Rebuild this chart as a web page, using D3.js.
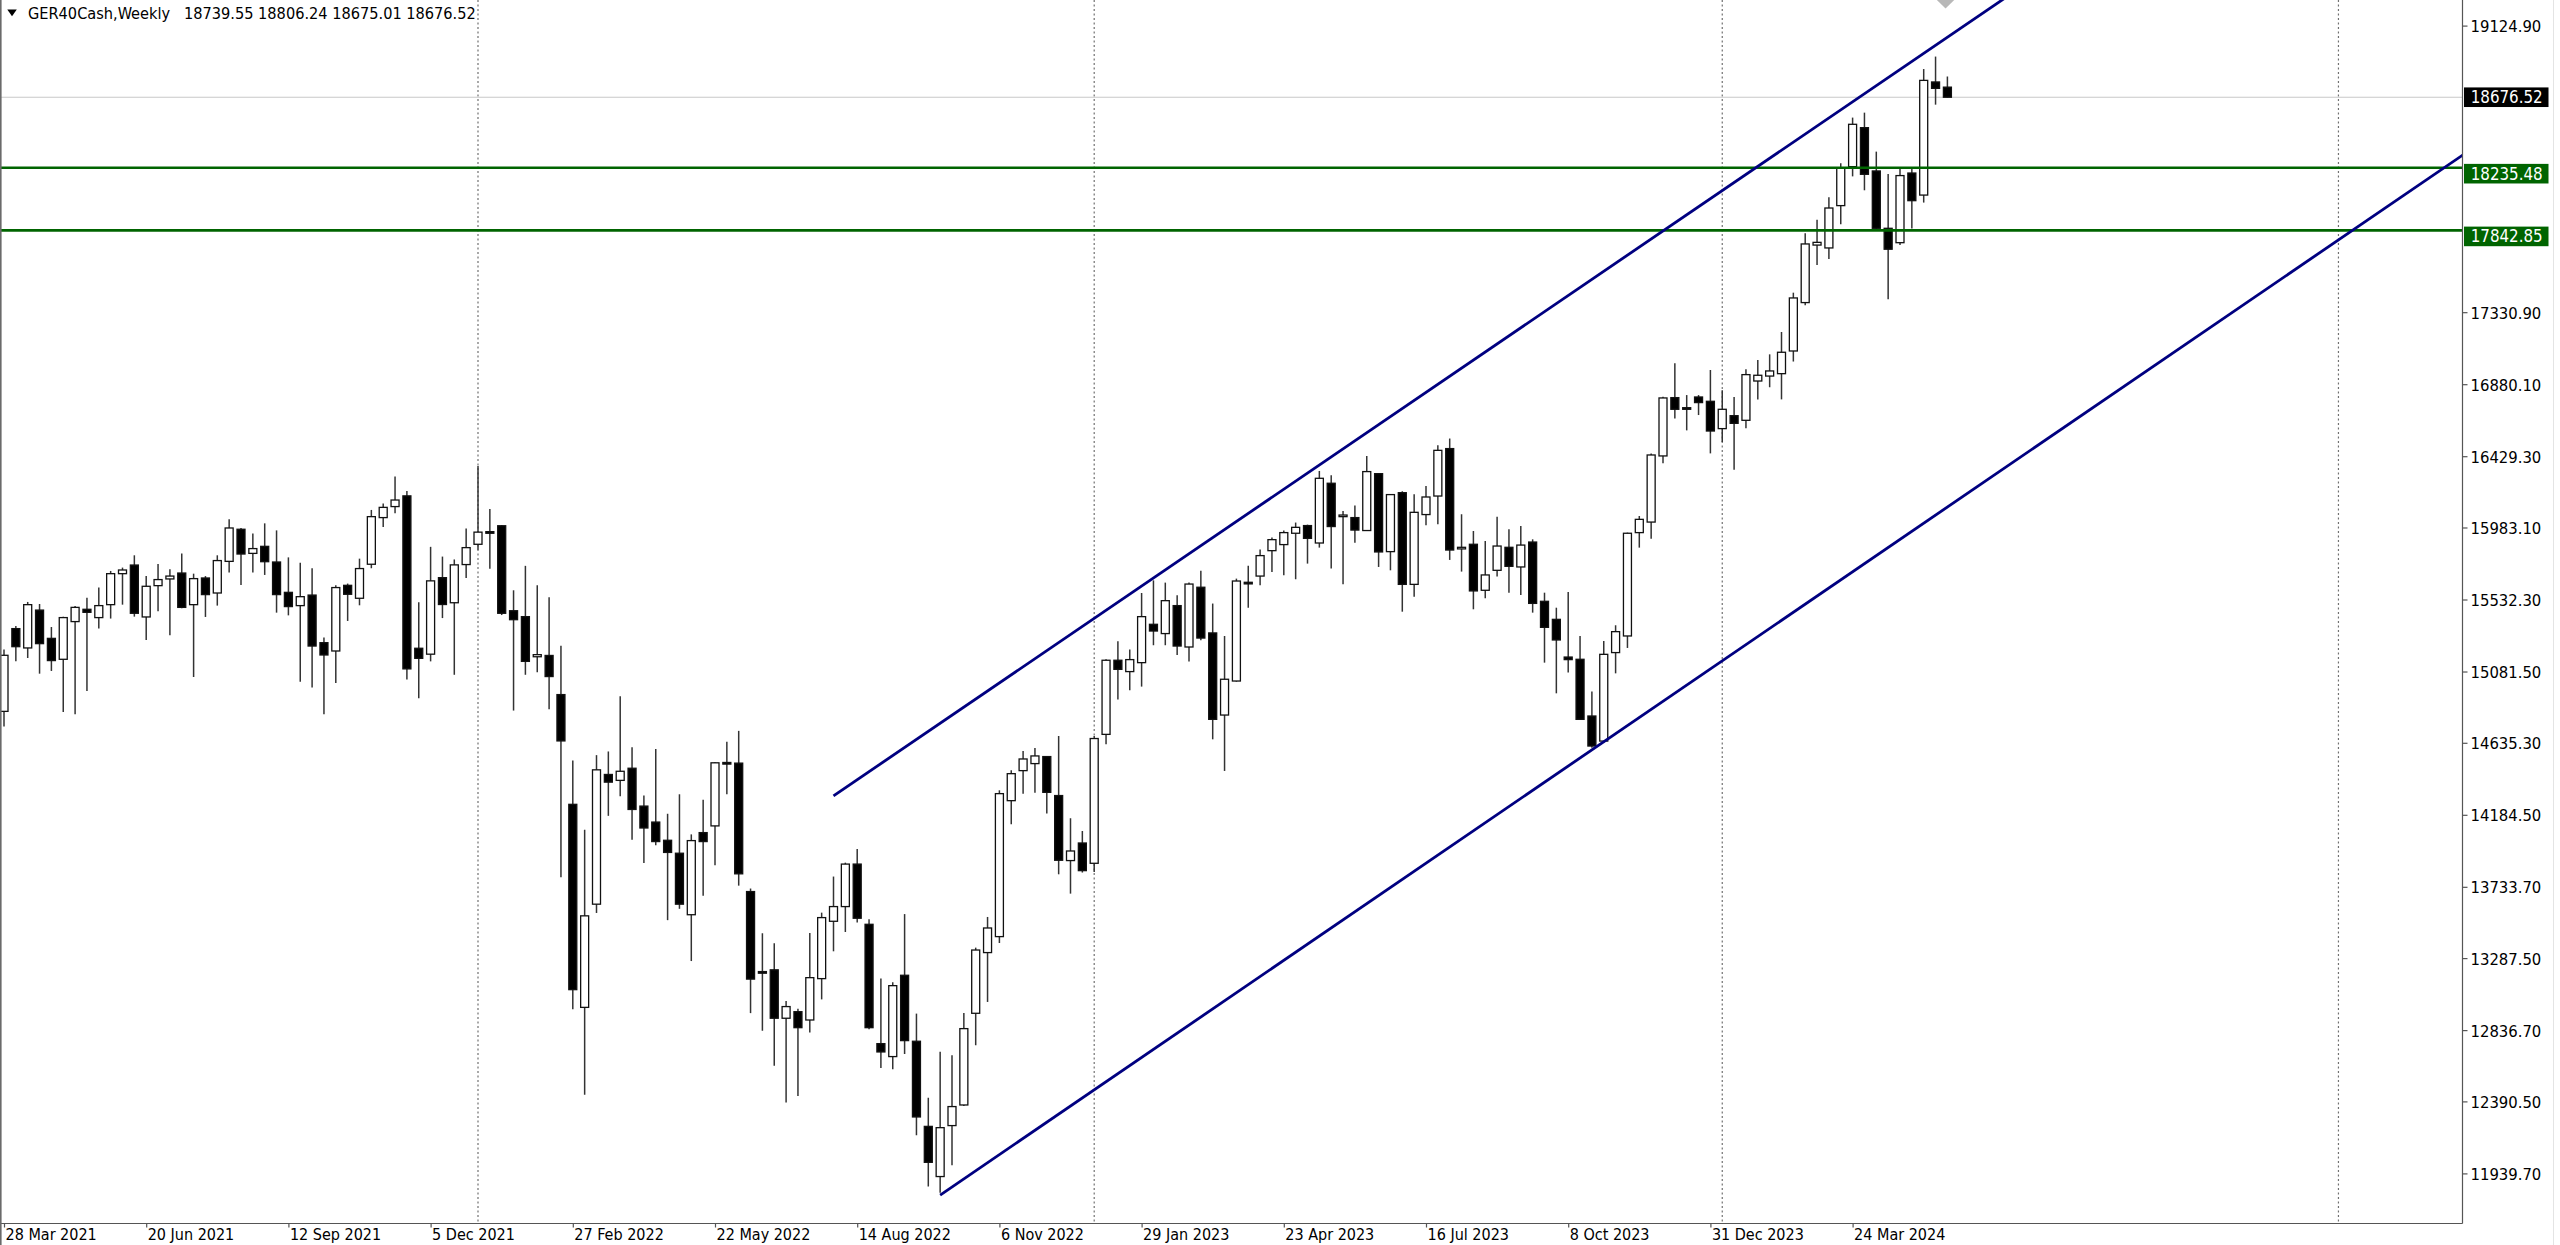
<!DOCTYPE html>
<html><head><meta charset="utf-8">
<script src="https://cdn.jsdelivr.net/npm/d3@7"></script>
<style>
html,body{margin:0;padding:0;background:#fff;overflow:hidden}
svg{display:block}
text{font-family:"DejaVu Sans Condensed","DejaVu Sans",sans-serif;font-stretch:condensed}
</style></head><body>
<svg id="chart" width="2560" height="1245"></svg>
<script>
const symbolTitle = "GER40Cash,Weekly";
const headerValues = ["18739.55", "18806.24", "18675.01", "18676.52"];
const firstWeek = "2021-03-28";
const lastWeekShown = "2025-01-05";

const open = [14832,15350,15229,15466,15289,15158,15394,15471,15419,15500,15694,15748,15423,15619,15661,15698,15500,15667,15573,15771,
15972,15821,15865,15767,15577,15494,15560,15262,15210,15621,15540,15753,16045,16114,16181,15227,15190,15669,15512,15751,
15878,15957,15994,15462,15425,15174,15182,14937,14250,12979,13625,14437,14400,14476,14239,14139,14025,13944,13559,14073,
14115,14512,14508,13704,13203,13214,12911,12952,12900,13159,13518,13610,13876,13499,12752,12671,13180,12767,12234,11920,
12239,12368,12942,13322,13422,14273,14461,14505,14549,14305,13898,14008,13881,14688,15152,15081,15137,15377,15319,15494,
15235,15609,15323,14809,15022,15640,15679,15838,15876,15947,15995,15886,16260,16057,16045,15964,16320,15832,16201,15627,
16064,16180,16477,15855,15878,15590,15715,15859,15736,15892,15521,15408,15172,15158,14803,14646,15200,15304,15951,16017,
16431,16796,16733,16800,16773,16602,16683,16654,16900,16931,16946,17088,17391,17751,17733,17998,18242,18486,18215,17856,
17766,18202,18064,18772,18739.55];
const high = [15220,15366,15517,15504,15360,15425,15492,15544,15607,15711,15732,15809,15679,15754,15721,15820,15694,15679,15809,16034,
15980,15945,16009,15965,15796,15763,15728,15294,15621,15632,15788,16093,16133,16302,16212,15515,15862,15801,15783,15976,
16368,16099,15998,15590,15743,15622,15546,15243,14524,14091,14558,14581,14926,14608,14305,14597,14191,14313,14062,14278,
14513,14642,14710,13723,13443,13380,13019,12971,13444,13572,13798,13885,13970,13530,13159,13136,13563,12940,12414,12702,
12679,12944,13353,13545,14338,14463,14584,14603,14552,14678,14163,14083,14678,15158,15271,15220,15573,15652,15638,15559,
15638,15713,15507,15304,15663,15744,15846,15920,15965,16014,16001,16337,16310,16086,16120,16431,16322,16191,16210,16191,
16243,16498,16540,16066,15961,15898,16051,15972,15992,15909,15575,15481,15579,15304,14956,15272,15371,15951,16055,16447,
16802,17011,16812,16812,16969,16842,16800,16973,17031,17067,17207,17453,17825,17910,18050,18263,18549,18580,18336,18196,
18238,18240,18853,18931,18806.24];
const low = [14738,15145,15166,15068,15085,14828,14814,14960,15350,15413,15500,15425,15279,15458,15308,15477,15047,15423,15494,15701,
15623,15701,15686,15450,15433,15018,14981,14814,15010,15398,15496,15728,15986,16072,15032,14914,15145,15416,15061,15667,
15843,15725,15435,14837,15061,15077,14845,13794,12967,12432,13570,14178,14300,14028,13883,13994,13525,13596,13269,13678,
13868,14313,13741,12943,12832,12613,12383,12424,12821,13029,13330,13451,13510,12842,12599,12591,12687,12178,11857,11819,
11990,12362,12742,13013,13382,14125,14317,14323,14192,13812,13691,13823,13826,14626,14906,14964,14987,15246,15246,15185,
15144,15277,14657,14459,15018,15481,15621,15704,15684,15659,15757,15857,15726,15627,15888,15961,15736,15715,15456,15550,
15997,16003,15780,15707,15471,15540,15676,15575,15560,15450,15137,14945,15075,14778,14605,14636,15070,15229,15857,15913,
16385,16665,16591,16687,16447,16518,16345,16604,16785,16861,16785,17022,17374,17626,17664,17881,18181,18094,17850,17412,
17751,17854,18017,18630,18675.01];
const close = [15183,15237,15500,15256,15150,15419,15483,15452,15494,15694,15717,15446,15615,15657,15679,15483,15663,15563,15776,15980,
15817,15851,15769,15563,15488,15550,15241,15185,15607,15565,15726,16051,16109,16155,15098,15164,15649,15501,15749,15857,
15954,15950,15446,15406,15145,15187,15050,14647,13090,13552,14466,14389,14457,14218,14102,14017,13949,13625,14023,14017,
14510,14506,13815,13156,13199,12911,12984,12852,13165,13541,13610,13876,13537,12852,12700,13115,12771,12293,12009,12226,
12358,12846,13338,13476,14317,14442,14534,14553,14325,13900,13958,13835,14662,15152,15095,15156,15425,15335,15525,15241,
15629,15291,14782,15033,15648,15636,15807,15907,15951,15984,15915,16291,15989,16061,15967,16333,15830,16189,15627,16078,
16174,16466,15842,15859,15586,15686,15867,15740,15873,15508,15358,15279,15156,14782,14615,15189,15331,15947,16034,16437,
16794,16723,16729,16765,16587,16723,16635,16940,16936,16963,17080,17420,17758,17768,17983,18233,18507,18194,17856,17725,
18186,18029,18782,18732,18676.52];

const dateTickLabels = ["28 Mar 2021","20 Jun 2021","12 Sep 2021","5 Dec 2021","27 Feb 2022","22 May 2022","14 Aug 2022",
  "6 Nov 2022","29 Jan 2023","23 Apr 2023","16 Jul 2023","8 Oct 2023","31 Dec 2023","24 Mar 2024"];
const priceTicks = [19124.90,17330.90,16880.10,16429.30,15983.10,15532.30,15081.50,14635.30,14184.50,13733.70,13287.50,12836.70,12390.50,11939.70];
const levelLines = [18235.48, 17842.85];
const lastPrice = 18676.52;
const yearSeparators = ["2022-01-02","2023-01-01","2024-01-07","2025-01-05"];
const upperChannel = [["2022-07-31", 14303], ["2024-05-05", 18951]];
const lowerChannel = [["2022-10-02", 11804], ["2023-10-22", 14591]];
const markerWeek = "2024-05-12";

const svg = d3.select("#chart");
const plotRight = 2462.5, plotBottom = 1223.5;
const parseISO = d3.utcParse("%Y-%m-%d");
const parseLabel = d3.utcParse("%d %b %Y");
const start = parseISO(firstWeek);
const dates = open.map((_, i) => d3.utcWeek.offset(start, i));

const x = d3.scaleUtc().domain([start, parseISO(lastWeekShown)]).range([4, 2338.45]);
const y = d3.scaleLinear().domain([11939.70, 19124.90]).range([1173.4, 25.6]);

svg.append("rect").attr("width", 2560).attr("height", 1245).attr("fill", "#fff");
svg.append("defs").append("clipPath").attr("id", "plotClip")
  .append("rect").attr("x", 0).attr("y", 0).attr("width", plotRight).attr("height", plotBottom);

const plot = svg.append("g").attr("clip-path", "url(#plotClip)");

// year separators
plot.selectAll("line.sep").data(yearSeparators).join("line").attr("class", "sep")
  .attr("x1", d => x(parseISO(d))).attr("x2", d => x(parseISO(d)))
  .attr("y1", 0).attr("y2", plotBottom)
  .attr("stroke", "#707070").attr("stroke-width", 1.2).attr("stroke-dasharray", "2,2.5");

// last price line
plot.append("line").attr("x1", 0).attr("x2", plotRight)
  .attr("y1", y(lastPrice)).attr("y2", y(lastPrice))
  .attr("stroke", "#c8c8c8").attr("stroke-width", 1.2);

// candles
const bw = 8;
const cg = plot.append("g");
const idx = d3.range(open.length);
cg.selectAll("line.wick").data(idx).join("line").attr("class", "wick")
  .attr("x1", i => x(dates[i])).attr("x2", i => x(dates[i]))
  .attr("y1", i => y(high[i])).attr("y2", i => y(low[i]))
  .attr("stroke", "#333").attr("stroke-width", 1.5);
cg.selectAll("rect.body").data(idx).join("rect").attr("class", "body")
  .attr("x", i => x(dates[i]) - bw / 2)
  .attr("width", bw)
  .attr("y", i => y(Math.max(open[i], close[i])))
  .attr("height", i => Math.max(1.6, Math.abs(y(open[i]) - y(close[i]))))
  .attr("fill", i => close[i] > open[i] ? "#fff" : "#000")
  .attr("stroke", "#111").attr("stroke-width", 1.3);

// horizontal levels
plot.selectAll("line.level").data(levelLines).join("line").attr("class", "level")
  .attr("x1", 0).attr("x2", plotRight)
  .attr("y1", d => y(d)).attr("y2", d => y(d))
  .attr("stroke", "#006400").attr("stroke-width", 2.6);

// channel rays
function ray(pts) {
  const [a, b] = pts;
  const xa = parseISO(a[0]), xb = parseISO(b[0]);
  const slope = (b[1] - a[1]) / (xb - xa);
  const xEnd = d3.utcWeek.offset(xb, 160);
  const pEnd = a[1] + slope * (xEnd - xa);
  return [[x(xa), y(a[1])], [x(xEnd), y(pEnd)]];
}
[upperChannel, lowerChannel].forEach(ch => {
  const p = ray(ch);
  plot.append("line").attr("x1", p[0][0]).attr("y1", p[0][1]).attr("x2", p[1][0]).attr("y2", p[1][1])
    .attr("stroke", "#000080").attr("stroke-width", 2.8).attr("stroke-linecap", "butt");
});

// marker at top (partially hidden)
const mx = x(parseISO(markerWeek)) + 10;
plot.append("path").attr("d", `M${mx},-10 L${mx + 9.5},-0.8 L${mx},8.6 L${mx - 9.5},-0.8 Z`).attr("fill", "#b8b8b8");

// axes frame
svg.append("line").attr("x1", plotRight).attr("x2", plotRight).attr("y1", 0).attr("y2", plotBottom)
  .attr("stroke", "#555").attr("stroke-width", 1.2);
svg.append("line").attr("x1", 0).attr("x2", plotRight).attr("y1", plotBottom).attr("y2", plotBottom)
  .attr("stroke", "#555").attr("stroke-width", 1.2);
svg.append("rect").attr("x", 0).attr("y", 0).attr("width", 1.6).attr("height", 1245).attr("fill", "#6a6a6a");
svg.append("line").attr("x1", 2553.5).attr("x2", 2553.5).attr("y1", 0).attr("y2", 1245)
  .attr("stroke", "#e4e4e4").attr("stroke-width", 1);

// bottom axis
const xAxis = d3.axisBottom(x)
  .tickValues(dateTickLabels.map(s => parseLabel(s)))
  .tickFormat((d, i) => dateTickLabels[i])
  .tickSize(4).tickSizeOuter(0);
const gx = svg.append("g").attr("transform", `translate(0,${plotBottom})`).call(xAxis);
gx.select(".domain").remove();
gx.selectAll(".tick line").attr("stroke", "#555").attr("stroke-width", 1.2);
gx.selectAll(".tick text").attr("text-anchor", "start").attr("x", 1).attr("y", 16.2).attr("dy", 0)
  .attr("fill", "#000").style("font-size", "16px");

// right axis
const yAxis = d3.axisRight(y).tickValues(priceTicks).tickFormat(d3.format(".2f")).tickSize(5).tickSizeOuter(0);
const gy = svg.append("g").attr("transform", `translate(${plotRight},0)`).call(yAxis);
gy.select(".domain").remove();
gy.selectAll(".tick line").attr("stroke", "#555").attr("stroke-width", 1.2);
gy.selectAll(".tick text").attr("x", 8).attr("dy", "0.36em").attr("fill", "#000").style("font-size", "16.5px");

// price label boxes
const boxes = [{v: lastPrice, bg: "#000", off: 0}].concat(levelLines.map(v => ({v, bg: "#006400", off: 6})));
const bg = svg.append("g");
boxes.forEach(b => {
  const cy = y(b.v) + b.off;
  bg.append("rect").attr("x", plotRight + 1.5).attr("y", cy - 9.8).attr("width", 84.5).attr("height", 19.6).attr("fill", b.bg);
  bg.append("text").attr("x", plotRight + 8.2).attr("y", cy).attr("dy", "0.36em")
    .attr("fill", "#fff").style("font-size", "16.8px").text(d3.format(".2f")(b.v));
});

// header
svg.append("path").attr("d", "M7.3,9.6 L16.8,9.6 L12,16.2 Z").attr("fill", "#000");
svg.append("text").attr("x", 28).attr("y", 19).style("font-size", "16.2px").attr("fill", "#000").text(symbolTitle);
svg.append("text").attr("x", 184).attr("y", 19).style("font-size", "16.2px").attr("fill", "#000").text(headerValues.join(" "));
</script>
</body></html>
